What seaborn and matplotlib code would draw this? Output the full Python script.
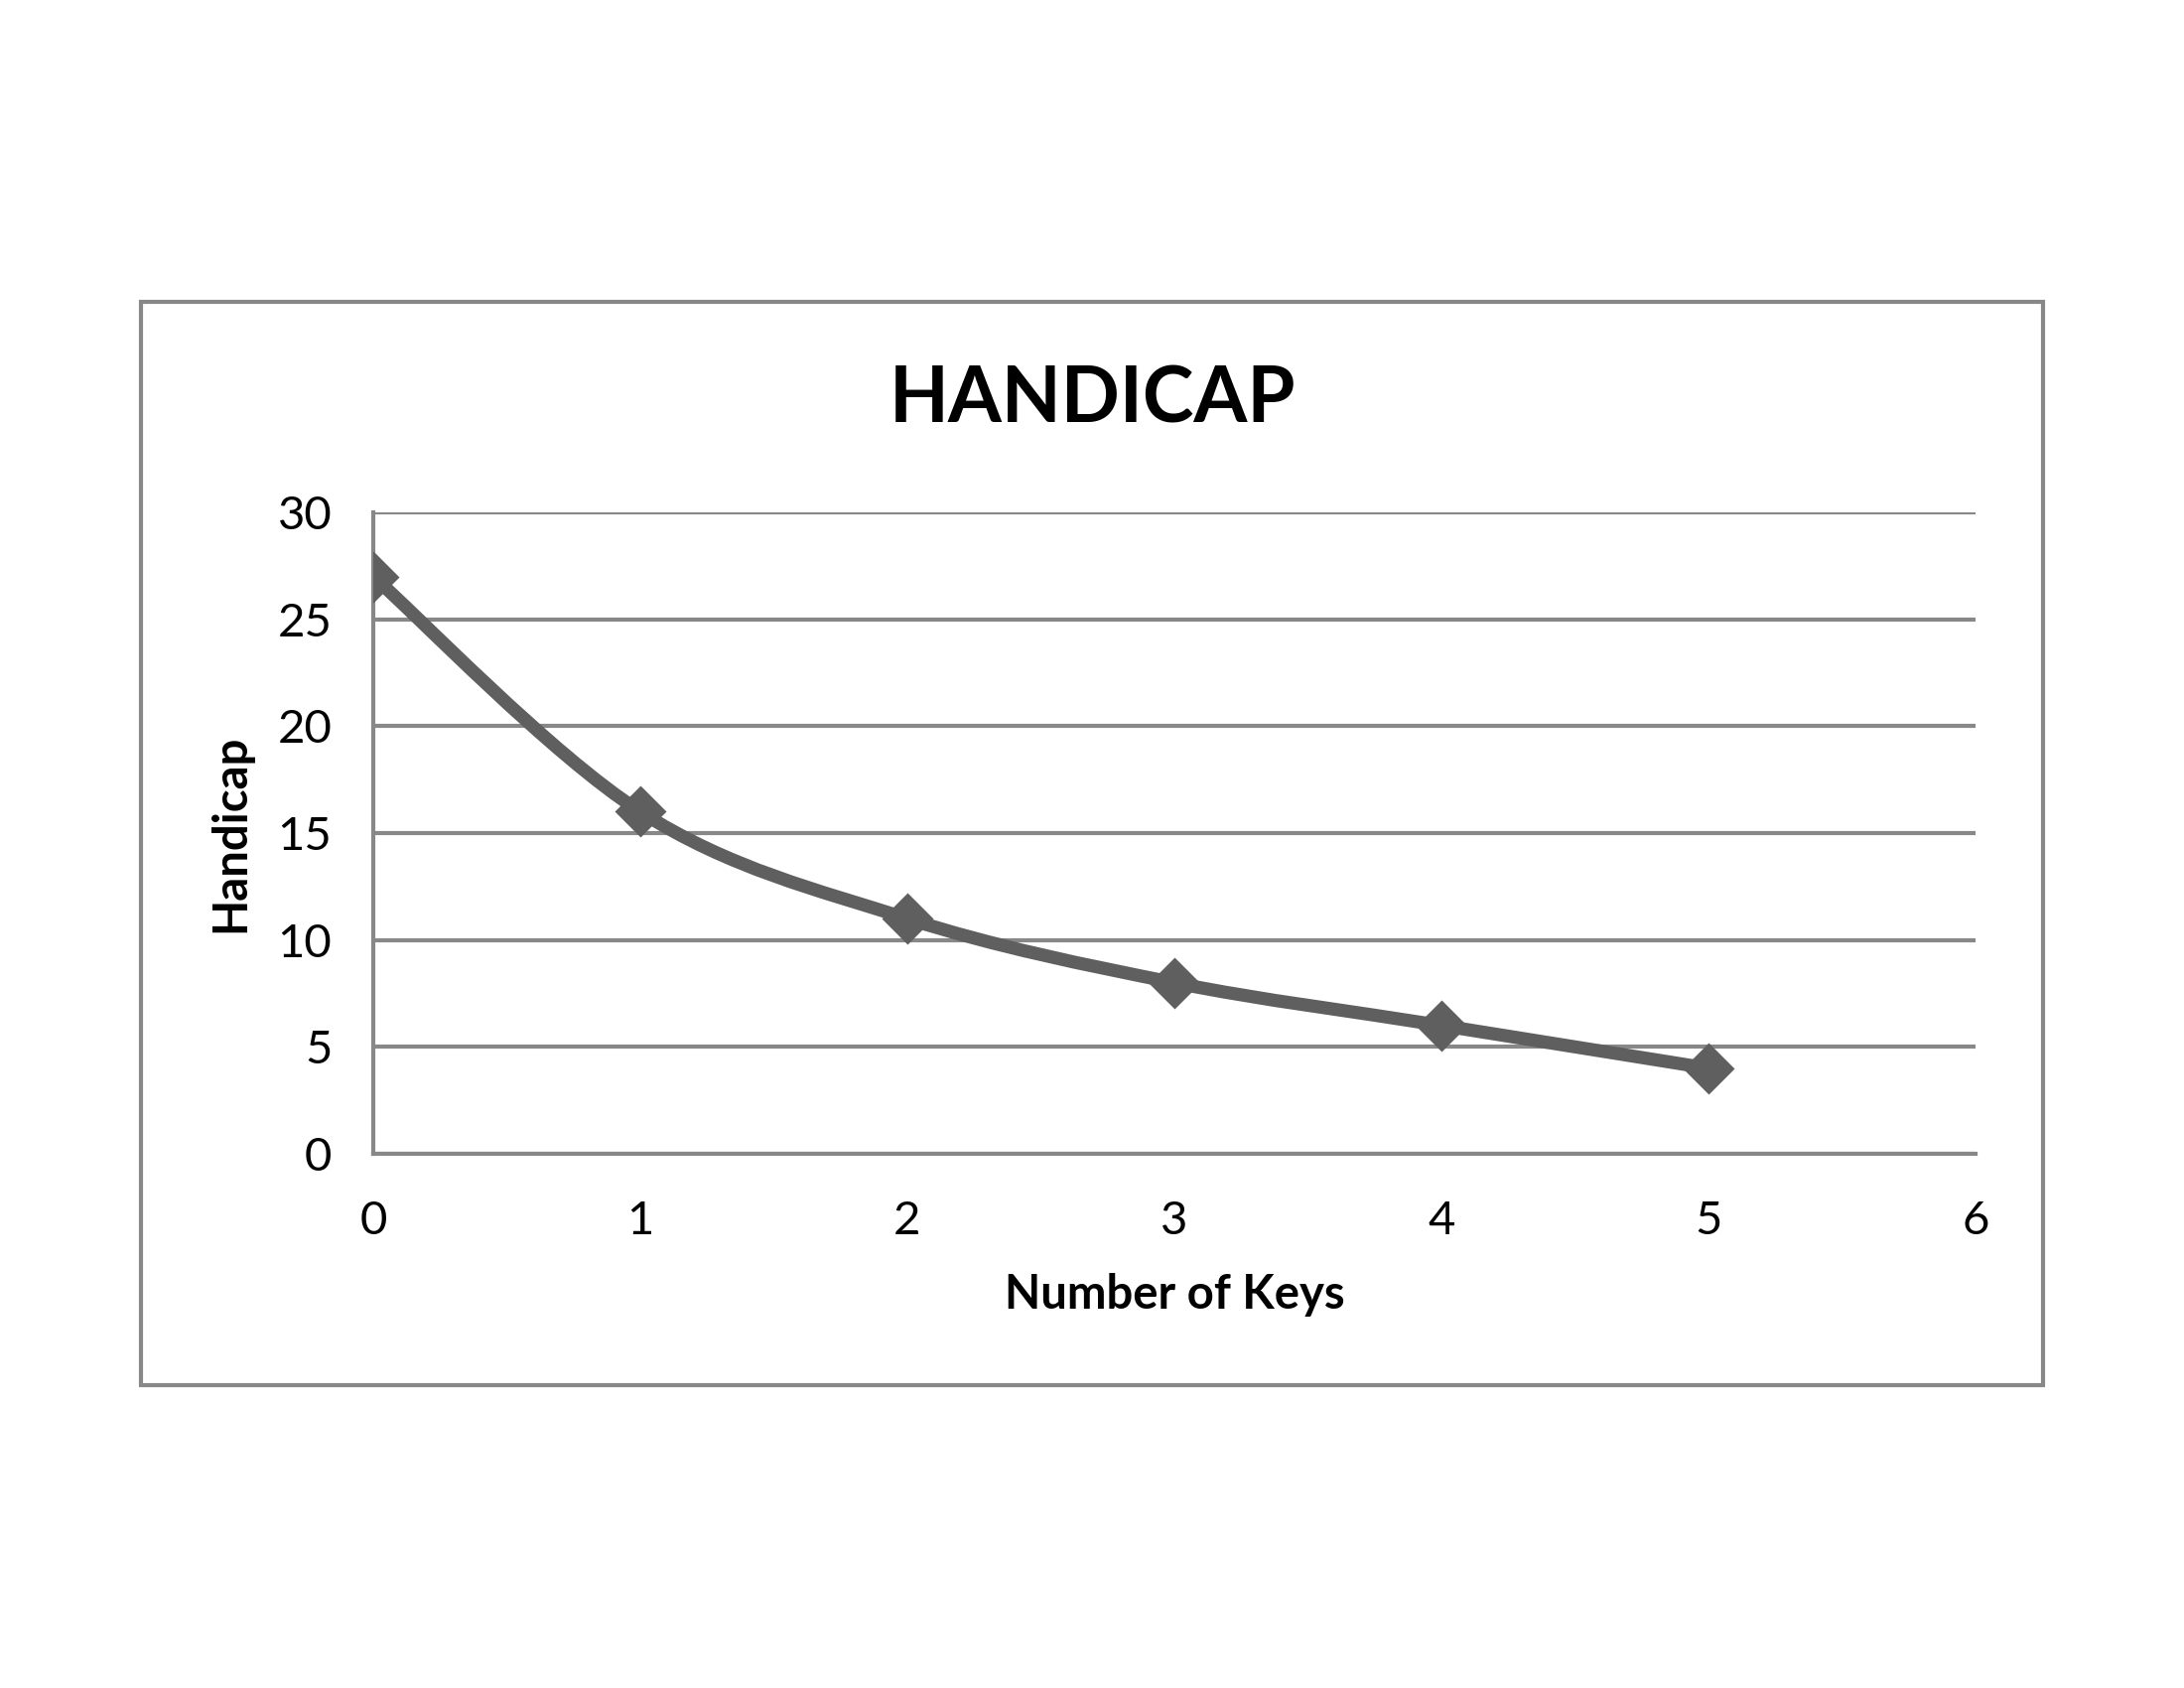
import matplotlib
matplotlib.use("Agg")
import matplotlib.pyplot as plt
from matplotlib.patches import Rectangle, PathPatch
from matplotlib.path import Path
import pandas as pd
import seaborn as sns

# chart data
keys = [0, 1, 2, 3, 4, 5]
handicap = [27, 16, 11, 8, 6, 4]
x_ticks = [0, 1, 2, 3, 4, 5, 6]
y_ticks = [0, 5, 10, 15, 20, 25, 30]

LINE_COLOR = "#5f5f5f"
GRID_COLOR = "#888888"
FONT = ["Lato", "DejaVu Sans"]


def smooth_path(xs, ys):
    """Excel-style smoothed line: Bezier segments through the data points."""
    pts = list(zip(xs, ys))
    verts = [pts[0]]
    codes = [Path.MOVETO]
    n = len(pts)
    for i in range(n - 1):
        p0 = pts[i - 1] if i > 0 else pts[i]
        p1 = pts[i]
        p2 = pts[i + 1]
        p3 = pts[i + 2] if i + 2 < n else pts[i + 1]
        c1 = (p1[0] + (p2[0] - p0[0]) / 6, p1[1] + (p2[1] - p0[1]) / 6)
        c2 = (p2[0] - (p3[0] - p1[0]) / 6, p2[1] - (p3[1] - p1[1]) / 6)
        verts += [c1, c2, p2]
        codes += [Path.CURVE4] * 3
    return Path(verts, codes)


def main():
    sns.set_theme(style="white")
    plt.rcParams["font.family"] = FONT
    plt.rcParams["text.color"] = "black"
    plt.rcParams["axes.labelcolor"] = "black"

    df = pd.DataFrame({"keys": keys, "handicap": handicap})

    fig = plt.figure(figsize=(22, 17), dpi=100)
    fig.patch.set_facecolor("white")

    # outer chart frame
    fig.add_artist(Rectangle((0.0645, 0.1794), 0.871, 0.6418, transform=fig.transFigure,
                             fill=False, edgecolor=GRID_COLOR, linewidth=3))

    ax = fig.add_axes([0.1709, 0.3165, 0.7336, 0.38])

    # smoothed line
    ax.add_patch(PathPatch(smooth_path(keys, handicap), fill=False, edgecolor=LINE_COLOR,
                           linewidth=9.5, capstyle="round", joinstyle="round", zorder=3))
    sns.scatterplot(data=df, x="keys", y="handicap", ax=ax, marker="D", s=700,
                    color=LINE_COLOR, edgecolor=LINE_COLOR, linewidth=0, zorder=4)

    ax.set_xlim(0, 6)
    ax.set_ylim(0, 30)
    ax.set_xticks(x_ticks)
    ax.set_yticks(y_ticks)
    ax.yaxis.grid(True, color=GRID_COLOR, linewidth=3)
    ax.xaxis.grid(False)
    ax.set_axisbelow(True)
    for side in ["top", "right"]:
        ax.spines[side].set_visible(False)
    for side in ["left", "bottom"]:
        ax.spines[side].set_color(GRID_COLOR)
        ax.spines[side].set_linewidth(3)
    ax.tick_params(axis="both", length=0, labelsize=34, labelcolor="black")
    ax.tick_params(axis="x", pad=34)
    ax.tick_params(axis="y", pad=30)

    ax.set_xlabel("Number of Keys", fontsize=34, fontweight="bold", labelpad=22)
    ax.set_ylabel("Handicap", fontsize=34, fontweight="bold", labelpad=18)

    fig.text(0.5, 1 - 403 / 1700, "HANDICAP", ha="center", va="center",
             fontsize=56, fontweight="bold", family=FONT, color="black")

    fig.savefig("out.png", dpi=100)
    plt.close(fig)


if __name__ == "__main__":
    main()
